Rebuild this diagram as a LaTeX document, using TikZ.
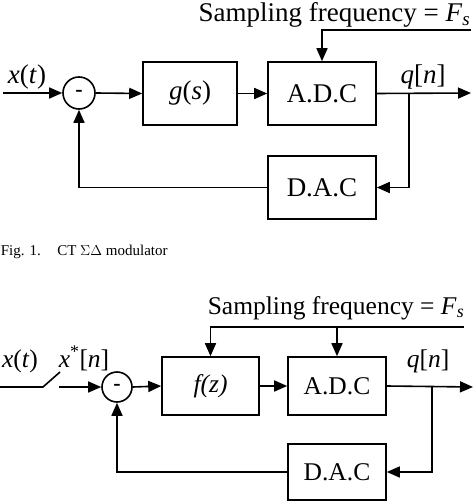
\documentclass[tikz,border=0pt]{standalone}
\usepackage{fontspec}
\setmainfont{Liberation Serif}
\usetikzlibrary{arrows.meta}
\begin{document}
\begin{tikzpicture}[x=1pt,y=-1pt,
  line width=1.6pt,
  tip/.style={-{Triangle[length=13pt,width=11pt]}},
  blk/.style={draw,rectangle,inner sep=0pt,font=\fontsize{27}{30}\selectfont},
  blkb/.style={draw,rectangle,inner sep=0pt,font=\fontsize{25.5}{28}\selectfont},
  sumc/.style={draw,circle,inner sep=0pt,font=\fontsize{22}{24}\selectfont\bfseries},
  lbl/.style={inner sep=0pt,font=\fontsize{27}{30}\selectfont},
  lblb/.style={inner sep=0pt,font=\fontsize{25.5}{28}\selectfont}]
\useasboundingbox (0,0) rectangle (474,502);
% ---------- top diagram ----------
\node[sumc,minimum size=32pt] (s1) at (79,93) {-};
\node[blk,minimum width=94pt,minimum height=63pt] (g) at (190,93.5) {\textit{g}(\textit{s})};
\node[blk,minimum width=108pt,minimum height=63pt] (adc1) at (322,93.5) {A.D.C};
\node[blk,minimum width=108pt,minimum height=63pt] (dac1) at (322,187.5) {D.A.C};
\coordinate (in1) at (3,93);
\coordinate (out1) at (471,93);
\coordinate (b1) at (409,93);
\coordinate (fs1) at (471,30);
\node[lbl,anchor=base east] (fst1) at (471,21.5) {Sampling frequency = \textit{F}\textsubscript{\textit{s}}};
\node[lbl,anchor=base] (xt1) at (27,84) {\textit{x}(\textit{t})};
\node[lbl,anchor=base] (qn1) at (423,84) {\textit{q}[\textit{n}]};
\draw[tip] (in1) -- (s1.west);
\draw[tip] (s1.east) -- (g.west);
\draw[tip] (g.east) -- (adc1.west);
\draw[tip] (adc1.east) -- (out1);
\draw[tip] (fs1) -| (adc1.north);
\draw[tip] (b1) |- (dac1.east);
\draw[tip] (dac1.west) -| (s1.south);
% caption
\node[inner sep=0pt,anchor=base west,font=\fontsize{15}{17}\selectfont] (cap) at (0,255) {Fig. 1.\hspace{1.1em}CT $\Sigma\Delta$ modulator};
% ---------- bottom diagram ----------
\node[sumc,minimum size=30pt] (s2) at (117,387) {-};
\node[blkb,minimum width=97pt,minimum height=58pt] (f) at (210.5,386) {\textit{f(z)}};
\node[blkb,minimum width=98pt,minimum height=58pt] (adc2) at (337,386) {A.D.C};
\node[blkb,minimum width=98pt,minimum height=56pt] (dac2) at (337,472) {D.A.C};
\coordinate (in2) at (0,387);
\coordinate (sw1) at (43,387);
\coordinate (sw2) at (60,372);
\coordinate (sw3) at (59,387);
\coordinate (out2) at (473,387);
\coordinate (b2) at (432,387);
\coordinate (fs2) at (464,327);
\coordinate (fsj) at (337,327);
\node[lblb,anchor=base east] (fst2) at (465,314) {Sampling frequency = \textit{F}\textsubscript{\textit{s}}};
\node[lblb,anchor=base] (xt2) at (20,367) {\textit{x}(\textit{t})};
\node[lblb,anchor=base] (xs2) at (84,367) {\textit{x}\textsuperscript{*}[\textit{n}]};
\node[lblb,anchor=base] (qn2) at (428,367) {\textit{q}[\textit{n}]};
\draw (in2) -- (sw1) -- (sw2);
\draw[tip] (sw3) -- (s2.west);
\draw[tip] (s2.east) -- (f.west);
\draw[tip] (f.east) -- (adc2.west);
\draw[tip] (adc2.east) -- (out2);
\draw[tip] (fs2) -| (f.north);
\draw[tip] (fsj) -- (adc2.north);
\draw[tip] (b2) |- (dac2.east);
\draw[tip] (dac2.west) -| (s2.south);
\end{tikzpicture}
\end{document}
